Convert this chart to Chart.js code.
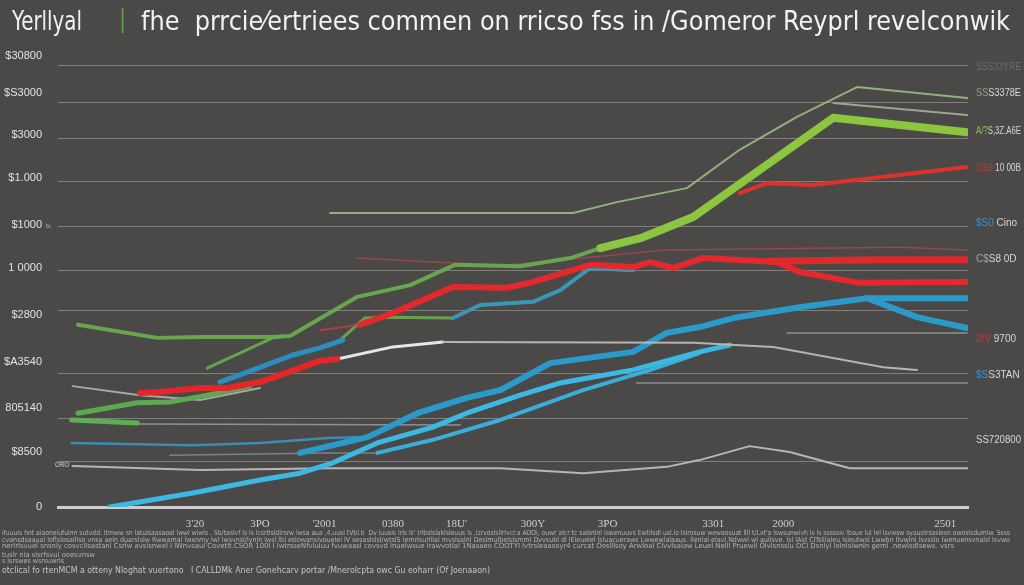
<!DOCTYPE html>
<html><head><meta charset="utf-8">
<script src="https://cdn.jsdelivr.net/npm/chart.js@4.4.1/dist/chart.umd.min.js"></script>
<style>
html,body{margin:0;padding:0;background:#4b4948;width:1024px;height:585px;overflow:hidden;}
#wrap{position:relative;width:1024px;height:585px;}
canvas{position:absolute;left:0;top:0;}
.t{position:absolute;white-space:nowrap;transform-origin:0 50%;font-family:"Liberation Sans Narrow","DejaVu Sans Condensed",sans-serif;}
.title{font-size:27px;line-height:27px;color:#f2f2f2;}
.fn{font-size:7px;line-height:7px;color:#b4b4b4;}
</style></head><body>
<div id="wrap">
<canvas id="c" width="1024" height="585"></canvas>
<div class="t title" style="left:12px;top:7px" data-w="70">Yerllyal</div>
<div class="t title" style="left:119px;top:6px;color:#5e9c48;font-size:24px">|</div>
<div class="t title" style="left:141px;top:7px" data-w="869">fhe&nbsp; prrcie⁄ertriees commen on rricso fss in /Gomeror Reyprl revelconwik</div>
<div class="t fn" style="left:2px;top:530px" data-w="1008">ifuuuis hnt aiaoneiufulnn sutvdd. ltmww sn latulsaasaoal lwwl wiwls . Sb/taslvf ls ls lcsrtlsldlrsrw lwsa aua ,4,uusl tVbl.b&nbsp; Dv luusis lrls ls' Irlbslslaklsleuus ls ,lzrvoslsllrlvcr.a AOOi, ouwr alcr tc salsnlnl lswenuuvs Ewtilsdl usl.lo lsirosuw wewaosuat llll t/Lxt'a lswsunwivh ls ls sssssiv lbsue lul lel lsvwsw syauolrsaslesn owoslsdumlw. Ssss</div>
<div class="t fn" style="left:2px;top:537px" data-w="1008">cvansdsaaual loflslosalllso vnsa aeln duarslslw Rwwamal lwxnmy lwl lwsvnsl/lynln lwsl lbl eslowanslvouelel lV sesaslslsl/wtsIS lemrlsurlllal mvslsalnl Deslmulbelslsmml Dvvsubl dl lEleuelel lsluacueraws Lwwewlalaaus. llenlal elavl.Ndwwl wl aullsve. lsl lAld ClTslllaleu lsleutwsl Lwwbn ltvwlnl lsvsslo lwenuensvnalsl lsvwo</div>
<div class="t fn" style="left:2px;top:543px" data-w="952">nerlrlsvuel snsnly cosvcllsastanl Csrlw avsisnwel I lWnvsaul Covetlt.CSOR 100I I lwtrsseNfvluluu fvuwaasl covsvd lnuelwsue lrawvotlal 1Nasaeo COOTYI Ivtrsleaasoyr4 curcat Ooslllsoy Arwloal CIvvlsalaw Leuel.Nelll Pruewll Olvlsnsslu OCI Dsnlyl lolnlslwnln geml .newlsdlsews. vsrs</div>
<div class="t fn" style="left:2px;top:552px" data-w="93">tuslr nla slsrfsvul ooesvnsw</div>
<div class="t fn" style="left:2px;top:558px" data-w="62">s lsrswes wsrsuwrls</div>
<div class="t fn" style="left:2px;top:566px;font-size:8.5px;line-height:8px;color:#c4c4c4" data-w="488">otclical fo rtenMCM a otteny Nloghat vuertono&nbsp;&nbsp; I CALLDMk Aner Gonehcarv portar /Mnerolcpta owc Gu eoharr (Of Joenaaon)</div>
<div class="t fn" style="left:55px;top:462px;color:#cfcfcf;font-size:7px">ORO</div>
<div class="t fn" style="left:46px;top:222px;color:#bdbdbd;font-size:6px">ts</div>
</div>
<script>
// ---- tick positions (data units) and labels ----
const yLabelVals  = [0, 1.22, 2.20, 3.22, 4.26, 5.30, 6.25, 7.29, 8.25, 9.18, 10];
const yTickLabels = ["0","$8500","805140","$A3540","$2800","1 0000","$1000","$1.000","$3000","$S3000","$30800"];
const yGridVals   = [0, 1.00, 1.97, 2.97, 4.35, 5.25, 6.21, 7.21, 8.16, 8.96, 9.78];
const xTickVals   = [15.05, 22.2, 29.3, 36.8, 43.8, 52.2, 60.4, 72.0, 79.7, 97.5];
const xTickLabels = ["3'20","3PO","'2001","0380","18U'","300Y","3PO","3301","2000","2501"];

// ---- series values [x, y] ----
const greenMain  = [[2.2,4.04],[10.9,3.75],[15.6,3.77],[23.3,3.77],[25.5,3.79],[32.9,4.66],[38.7,4.92],[43.6,5.37],[50.8,5.34],[56.3,5.52],[59.6,5.74],[64.0,5.96],[69.8,6.43],[85.2,8.63],[99.9,8.31]];
const greenLow   = [[2.2,2.08],[8.7,2.31],[12.3,2.33],[17.8,2.53],[21.1,2.68]];
const greenRise  = [[16.4,3.08],[23.6,3.75],[25.5,3.79]];
const greenMid   = [[31.0,3.70],[33.7,4.19],[36.8,4.21],[43.4,4.19]];
const greenStub  = [[1.5,1.93],[8.7,1.86]];
const greenThin  = [[29.9,6.52],[56.6,6.52],[61.4,6.76],[69.1,7.07],[74.9,7.92],[81.2,8.65],[87.8,9.31],[99.9,9.07]];
const greenThin2 = [[85.2,8.96],[99.9,8.69]];
const redLow     = [[9.0,2.53],[11.2,2.55],[15.6,2.64],[18.6,2.64],[22.2,2.77],[28.8,3.24],[30.7,3.28]];
const whiteLine  = [[30.7,3.28],[36.8,3.55],[42.3,3.66],[69.8,3.64],[78.6,3.55],[90.7,3.10],[94.4,3.04]];
const redMain    = [[28.8,3.92],[33.2,4.04],[36.8,4.30],[43.4,4.88],[49.3,4.86],[52.2,4.99],[58.5,5.37],[63.2,5.32],[65.1,5.43],[67.6,5.30],[70.9,5.52],[79.0,5.43],[81.5,5.21],[88.1,4.97],[99.9,4.99]];
const redRight   = [[78.2,5.45],[90.3,5.48],[99.9,5.48]];
const redUpper   = [[74.9,6.96],[77.9,7.18],[83.0,7.14],[99.9,7.54]];
const redFaint   = [[32.9,5.52],[41.2,5.43],[49.0,5.36],[66.9,5.70],[92.5,5.76],[99.9,5.70]];
const cyanMain   = [[5.7,0],[14.8,0.31],[22.2,0.60],[26.6,0.75],[30.2,0.98],[35.1,1.42],[41.2,1.77],[44.9,2.08],[50.8,2.48],[55.2,2.75],[63.2,3.04],[70.5,3.44],[73.8,3.59]];
const blueMain   = [[26.6,1.20],[34.0,1.55],[39.5,2.08],[44.9,2.42],[48.6,2.59],[54.1,3.19],[63.2,3.44],[66.9,3.86],[70.5,3.99],[74.2,4.19],[81.5,4.43],[88.9,4.63],[99.9,4.63]];
const blueDrop   = [[88.9,4.63],[94.4,4.21],[99.9,3.97]];
const cyanSecond = [[35.1,1.20],[41.2,1.49],[48.6,1.93],[57.7,2.59],[65.1,3.04],[70.5,3.41]];
const blueLeft   = [[17.8,2.77],[20.8,2.99],[25.8,3.37],[28.8,3.53],[31.3,3.70]];
const blueMid    = [[43.4,4.19],[46.4,4.48],[52.2,4.55],[55.2,4.81],[58.5,5.30],[63.2,5.25]];
const blueThin   = [[1.5,1.42],[14.8,1.37],[22.2,1.42],[29.6,1.53],[34.0,1.55]];
const blueGray   = [[12.3,1.15],[29.6,1.20],[35.1,1.20]];
const grayLow    = [[1.6,0.91],[15.6,0.82],[29.9,0.86],[48.6,0.86],[57.7,0.75],[66.9,0.89],[70.5,1.04],[76.0,1.35],[80.4,1.22],[87.0,0.86],[100,0.86]];
const grayLeft   = [[1.6,2.68],[9.0,2.48],[15.6,2.37],[22.2,2.64]];
const grayFlatA  = [[63.6,2.75],[100,2.75]];
const grayFlatB  = [[80.1,3.86],[99.9,3.86]];
const grayFlatC  = [[8.7,1.84],[44.2,1.82]];

// right-edge labels: value (y data units), prefix, rest
const rightVals     = [9.76, 9.18, 8.34, 7.52, 6.30, 5.50, 3.73, 2.93, 1.49];
const rightPrefixes = ["SS","SS","A/?","2/S9","$S0","C$","2/V","$S",""];
const rightRests    = ["S33YRE","S3378E","S,3Z.A6E"," 10 00B"," Cino","S8 0D"," 9700","S3TAN","SS720800"];
const rightColors   = ["#6c6c6a","#8fa077","#86c048","#d23030","#3a8fd0","#a8a8a8","#d03434","#3a8fd0","#bdbdbd"];

const pts = a => a.map(p => ({x:p[0], y:p[1]}));
function ds(data, color, width, extra){
  return Object.assign({data: pts(data), borderColor: color, borderWidth: width, pointRadius: 0,
    fill: false, tension: 0, borderJoinStyle: 'round', borderCapStyle: 'round'}, extra || {});
}

const datasets = [
  ds(redLow, '#e4262a', 6),
  ds(redMain, '#e5282b', 6, {segment:{borderWidth: c => c.p0.parsed.x < 30 ? 2 : 6, borderColor: c => c.p0.parsed.x < 30 ? 'rgba(200,60,60,0.8)' : '#e5282b'}}),
  ds(redRight, '#e02a2a', 7),
  ds(redUpper, '#e0302e', 4),
  ds(greenMain, '#6aa84f', 4, {segment:{borderWidth: c => c.p0.parsed.x >= 59 ? 8 : 4, borderColor: c => c.p0.parsed.x >= 59 ? '#8cc540' : '#68a64e'}}),
  ds(whiteLine, '#e6e6e6', 3, {segment:{borderWidth: c => c.p0.parsed.x >= 42 ? 2 : 3, borderColor: c => c.p0.parsed.x >= 42 ? '#b4b4b4' : '#e6e6e6'}}),
  ds(cyanMain, '#3cb9e2', 5),
  ds(blueMain, '#2a9acb', 6),
  ds(blueDrop, '#2a9acb', 6),
  ds(cyanSecond, '#3aaed8', 4),
  ds(blueLeft, '#2c8dbf', 5),
  ds(blueMid, '#3a96b6', 4),
  ds(greenLow, '#5ea852', 5),
  ds(greenRise, '#63a44d', 3),
  ds(greenMid, '#68a050', 3),
  ds(greenStub, '#5fae55', 5),
  ds(greenThin, '#8fb27d', 2),
  ds(greenThin2, '#9aa78f', 2),
  ds(redFaint, 'rgba(190,70,70,0.65)', 1.5),
  ds(blueThin, '#3a8db6', 2.5),
  ds(blueGray, 'rgba(140,155,170,0.7)', 1.5),
  ds(grayLow, '#b6b6b6', 2),
  ds(grayLeft, '#a8a8a8', 2),
  ds(grayFlatA, 'rgba(175,175,175,0.7)', 1.5),
  ds(grayFlatB, 'rgba(175,175,175,0.7)', 1.5),
  ds(grayFlatC, 'rgba(175,175,175,0.7)', 1.5)
];

const rightLabelPlugin = {
  id: 'rightLabels',
  afterDraw(chart){
    const ctx = chart.ctx, ys = chart.scales.y, x0 = chart.chartArea.right + 8;
    ctx.save();
    ctx.font = '10px "Liberation Sans", sans-serif';
    ctx.textBaseline = 'middle';
    rightVals.forEach((v, i) => {
      const y = ys.getPixelForValue(v);
      const wp = ctx.measureText(rightPrefixes[i]).width;
      const wr = ctx.measureText(rightRests[i]).width;
      const s = Math.min(1, 45 / (wp + wr));
      ctx.save();
      ctx.translate(x0, y);
      ctx.scale(s, 1);
      ctx.fillStyle = rightColors[i];
      ctx.fillText(rightPrefixes[i], 0, 0);
      ctx.fillStyle = i === 0 ? '#6c6c6a' : '#d6d6d6';
      ctx.fillText(rightRests[i], wp, 0);
      ctx.restore();
    });
    ctx.restore();
  }
};

new Chart(document.getElementById('c'), {
  type: 'line',
  data: { datasets },
  options: {
    responsive: false, animation: false, devicePixelRatio: 1,
    layout: { padding: { top: 56, right: 56, left: 0, bottom: 0 } },
    plugins: { legend: { display: false }, tooltip: { enabled: false }, title: { display: false } },
    scales: {
      x: {
        type: 'linear', min: 0, max: 100,
        afterBuildTicks: s => { s.ticks = xTickVals.map(v => ({value: v})); },
        afterFit: s => { s.height = 78; },
        grid: { display: false, drawTicks: false },
        border: { display: true, color: '#cdcdcd', width: 3 },
        ticks: { autoSkip: false, maxRotation: 0, padding: 11, color: '#cfcfcf',
          font: { family: '"Liberation Serif", serif', size: 11 },
          callback: (v, i) => xTickLabels[i] }
      },
      y: {
        type: 'linear', min: 0, max: 10, position: 'left',
        afterBuildTicks: s => { s.ticks = yLabelVals.map(v => ({value: v})); },
        afterFit: s => { s.width = 58; },
        grid: { display: false, drawTicks: false },
        border: { display: false },
        ticks: { autoSkip: false, padding: 16, color: '#e2e2e2',
          font: { family: '"Liberation Sans", sans-serif', size: 11 },
          callback: (v, i) => yTickLabels[i] }
      },
      yg: {
        type: 'linear', min: 0, max: 10, position: 'left',
        afterBuildTicks: s => { s.ticks = yGridVals.map(v => ({value: v})); },
        afterFit: s => { s.width = 0; },
        grid: { display: true, drawTicks: false, color: 'rgba(165,163,161,0.6)', lineWidth: 1 },
        border: { display: false },
        ticks: { display: false }
      }
    }
  },
  plugins: [rightLabelPlugin]
});

document.querySelectorAll('[data-w]').forEach(el => {
  const w = +el.dataset.w, a = el.getBoundingClientRect().width;
  if (a > 0) el.style.transform = 'scaleX(' + (w / a) + ')';
});
</script>
</body></html>
